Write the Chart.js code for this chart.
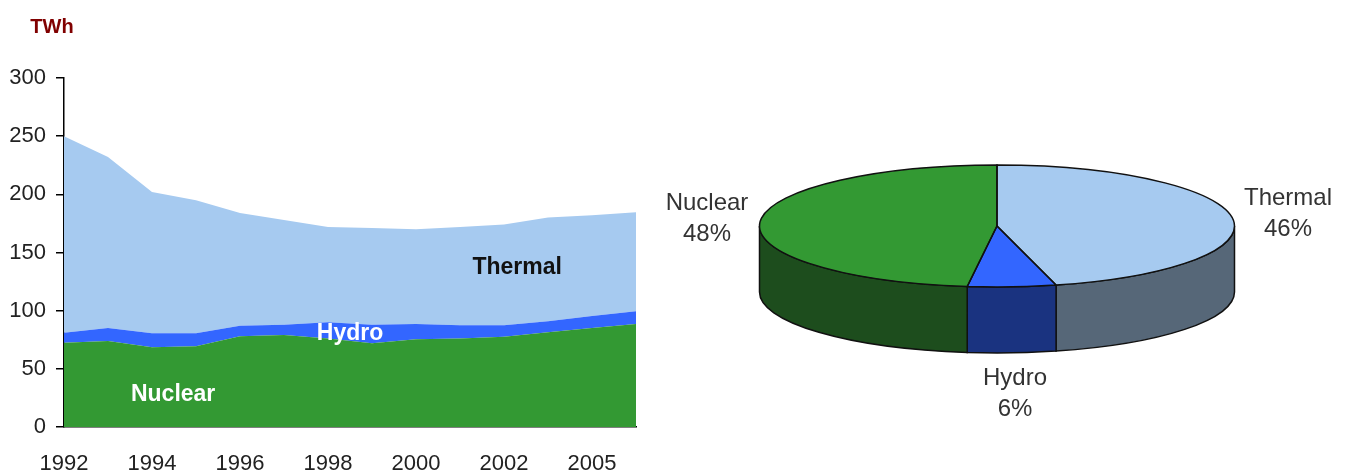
<!DOCTYPE html>
<html>
<head>
<meta charset="utf-8">
<script src="https://cdn.jsdelivr.net/npm/chart.js@4/dist/chart.umd.min.js"></script>
<style>
    html, body { margin: 0; padding: 0; background: #fff; }
    #wrap { position: relative; width: 1348px; height: 473px; overflow: hidden; }
    #areaChart { position: absolute; left: 0; top: 0; }
    #pieChart { position: absolute; left: 660px; top: -50px; }
</style>
</head>
<body>
<div id="wrap">
    <canvas id="areaChart" width="660" height="473"></canvas>
    <canvas id="pieChart" width="688" height="560"></canvas>
</div>
<script>
// production by source, TWh
const years = ['1992', '1993', '1994', '1995', '1996', '1997', '1998', '1999', '2000', '2001', '2002', '2003', '2004', '2005'];
const tickLabels = ['1992', '1994', '1996', '1998', '2000', '2002', '2005'];
const nuclear = [72.5, 74, 68.5, 69.5, 78, 79, 76, 72, 75.5, 76, 77.5, 81.5, 85, 88.5];
const hydro = [8.5, 11, 12, 11, 9, 9, 14, 16, 13, 11.5, 10, 9.5, 10.5, 11];
const thermal = [169, 147, 121.5, 114.5, 97, 90, 82, 83, 81.5, 84.5, 86.5, 89, 86.5, 85];

// share of production
const pieLabels = ['Thermal', 'Hydro', 'Nuclear'];
const pieShares = [46, 6, 48];

Chart.defaults.font.family = '"Liberation Sans", Arial, sans-serif';
Chart.defaults.color = '#333';

const areaLabels = {
    id: 'areaLabels',
    afterDraw(chart) {
        const ctx = chart.ctx;
        const x = chart.scales.x;
        const y = chart.scales.y;
        ctx.save();
        ctx.textAlign = 'center';
        ctx.textBaseline = 'middle';
        ctx.font = 'bold 20px "Liberation Sans", Arial, sans-serif';
        ctx.fillStyle = '#800000';
        ctx.fillText('TWh', 52, 27);
        ctx.font = 'bold 23px "Liberation Sans", Arial, sans-serif';
        ctx.fillStyle = '#fff';
        ctx.fillText('Nuclear', x.getPixelForValue(2.48), y.getPixelForValue(28));
        ctx.fillText('Hydro', x.getPixelForValue(6.5), y.getPixelForValue(80));
        ctx.fillStyle = '#111';
        ctx.fillText('Thermal', x.getPixelForValue(10.3), y.getPixelForValue(137));
        ctx.restore();
    }
};

new Chart(document.getElementById('areaChart'), {
    type: 'line',
    data: {
        labels: years,
        datasets: [
            { label: 'Nuclear', data: nuclear, backgroundColor: '#339933', fill: 'origin' },
            { label: 'Hydro', data: hydro, backgroundColor: '#3366FF', fill: '-1' },
            { label: 'Thermal', data: thermal, backgroundColor: '#A6CAF0', fill: '-1' }
        ]
    },
    options: {
        responsive: false,
        animation: false,
        events: [],
        layout: { padding: { top: 78, right: 24, left: 0, bottom: 0 } },
        elements: {
            line: { borderWidth: 0, tension: 0 },
            point: { radius: 0 }
        },
        plugins: { legend: { display: false }, tooltip: { enabled: false } },
        scales: {
            x: {
                offset: false,
                border: { color: '#000', width: 1.5 },
                grid: { display: true, drawOnChartArea: false, drawTicks: false },
                ticks: {
                    autoSkip: false,
                    maxRotation: 0,
                    padding: 24,
                    color: '#222',
                    font: { size: 22 },
                    callback: (v, i) => (i % 2 === 0 && tickLabels[i / 2]) ? tickLabels[i / 2] : ''
                },
                afterFit: s => { s.height = 46; }
            },
            y: {
                stacked: true,
                min: 0,
                max: 300,
                border: { color: '#000', width: 1.5 },
                grid: { drawOnChartArea: false, drawTicks: true, tickLength: 8, color: '#000', lineWidth: 1.5 },
                ticks: { stepSize: 50, padding: 10, color: '#222', font: { size: 22 } },
                afterFit: s => { s.width = 64; }
            }
        }
    },
    plugins: [areaLabels]
});

// 3D look for the pie: the library draws the top squashed into an ellipse,
// the plugin adds the rim below it and the outlines
const sideColors = ['#566778', '#1A3380', '#1D4D1D'];
const depth = 66;
const squash = 61 / 237.5;

function frontParts(a0, a1) {
    const parts = [];
    [0, 2 * Math.PI, -2 * Math.PI].forEach(shift => {
        const s = Math.max(a0 + shift, 0);
        const e = Math.min(a1 + shift, Math.PI);
        if (e > s) parts.push([s, e]);
    });
    return parts;
}

const pie3d = {
    id: 'pie3d',
    beforeDatasetsDraw(chart) {
        const ctx = chart.ctx;
        const arcs = chart.getDatasetMeta(0).data;
        ctx.save();
        ctx.lineWidth = 1.5;
        ctx.strokeStyle = '#111';
        arcs.forEach((arc, i) => {
            const cx = arc.x, cy = arc.y, rx = arc.outerRadius, ry = rx * squash;
            frontParts(arc.startAngle, arc.endAngle).forEach(([s, e]) => {
                ctx.beginPath();
                ctx.ellipse(cx, cy, rx, ry, 0, s, e);
                ctx.lineTo(cx + rx * Math.cos(e), cy + ry * Math.sin(e) + depth);
                ctx.ellipse(cx, cy + depth, rx, ry, 0, e, s, true);
                ctx.closePath();
                ctx.fillStyle = sideColors[i];
                ctx.fill();
                ctx.stroke();
            });
        });
        ctx.restore();
        const c = arcs[0].y;
        ctx.save();
        ctx.translate(0, c);
        ctx.scale(1, squash);
        ctx.translate(0, -c);
    },
    afterDatasetsDraw(chart) {
        const ctx = chart.ctx;
        ctx.restore();
        const arcs = chart.getDatasetMeta(0).data;
        ctx.save();
        ctx.lineWidth = 1.5;
        ctx.strokeStyle = '#111';
        arcs.forEach(arc => {
            const cx = arc.x, cy = arc.y, rx = arc.outerRadius, ry = rx * squash;
            ctx.beginPath();
            ctx.moveTo(cx, cy);
            ctx.ellipse(cx, cy, rx, ry, 0, arc.startAngle, arc.endAngle);
            ctx.closePath();
            ctx.stroke();
        });
        ctx.font = '24px "Liberation Sans", Arial, sans-serif';
        ctx.fillStyle = '#333';
        ctx.textAlign = 'center';
        ctx.textBaseline = 'middle';
        const spots = [[628, 248], [355, 428], [47, 253]];
        pieLabels.forEach((name, i) => {
            ctx.fillText(name, spots[i][0], spots[i][1]);
            ctx.fillText(pieShares[i] + '%', spots[i][0], spots[i][1] + 31);
        });
        ctx.restore();
    }
};

new Chart(document.getElementById('pieChart'), {
    type: 'pie',
    data: {
        labels: pieLabels,
        datasets: [{
            data: pieShares,
            backgroundColor: ['#A6CAF0', '#3366FF', '#339933'],
            borderWidth: 0
        }]
    },
    options: {
        responsive: false,
        animation: false,
        events: [],
        layout: { padding: { left: 99.5, right: 113.5, top: 38.5, bottom: 46.5 } },
        plugins: { legend: { display: false }, tooltip: { enabled: false } }
    },
    plugins: [pie3d]
});
</script>
</body>
</html>
